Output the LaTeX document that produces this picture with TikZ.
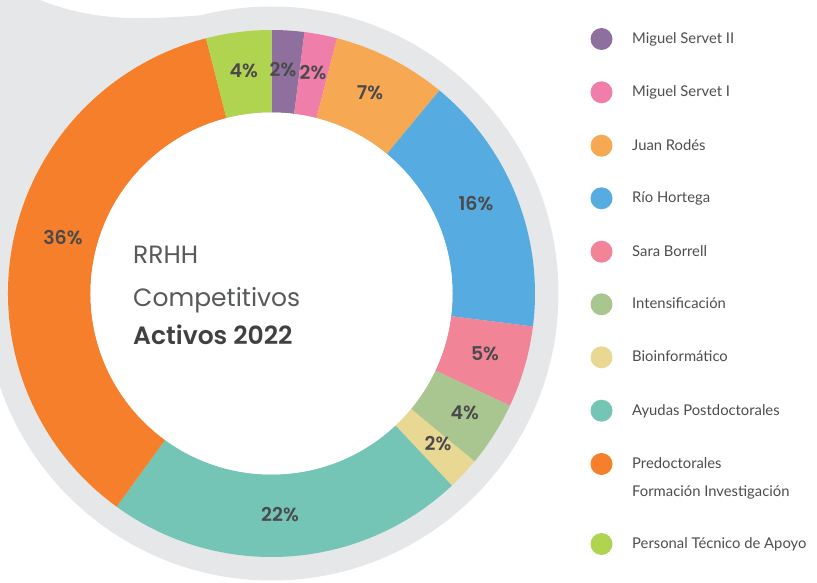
\documentclass[tikz,border=0pt]{standalone}
\usepackage{fontspec}
\setmainfont{Lato}
\newfontfamily\popfont{Poppins}
\newfontfamily\popsemi{Poppins SemiBold}
\usetikzlibrary{calc}
\definecolor{bgray}{HTML}{E6E7E8}
\definecolor{cpur}{HTML}{8E6F9E}
\definecolor{cpnk}{HTML}{F07EAA}
\definecolor{corl}{HTML}{F6A852}
\definecolor{cblu}{HTML}{56ACE0}
\definecolor{csar}{HTML}{F28497}
\definecolor{cint}{HTML}{A9C690}
\definecolor{cbio}{HTML}{E8D893}
\definecolor{cteal}{HTML}{74C5B6}
\definecolor{cora}{HTML}{F57F2A}
\definecolor{clime}{HTML}{B0D350}
\definecolor{pctgray}{HTML}{4A4A4C}
\definecolor{leggray}{HTML}{4D4D4F}
\definecolor{ctrgray}{HTML}{58595B}
\definecolor{ctrbold}{HTML}{414042}
\begin{document}
\begin{tikzpicture}[x=1pt,y=1pt,
  pct/.style={font=\popsemi\fontsize{19}{19}\selectfont, text=pctgray, inner sep=0pt},
  legdot/.style={circle, fill=#1, minimum size=22pt, inner sep=0pt},
  legtxt/.style={anchor=base west, font=\fontsize{14.8}{14.8}\selectfont, text=leggray, inner sep=0pt},
  ctr/.style={anchor=base west, font=\popfont\fontsize{25}{25}\selectfont, text=ctrgray, inner sep=0pt}]
\useasboundingbox (0,0) rectangle (817,582);
\coordinate (C) at (271.5,288.5);
% grey background bubble
\fill[bgray] (C) circle[radius=287pt];
\fill[bgray] (0,582) -- (40,582) .. controls (75,568) and (110,563) .. (150,564)
  .. controls (175,564.5) and (190,566) .. (200,566.6) -- (C) -- (0,288.5) -- cycle;
% slices
\foreach \c/\a/\b in {cpur/90/82.8, cpnk/82.8/75.6, corl/75.6/50.4, cblu/50.4/-7.2,
  csar/-7.2/-25.2, cint/-25.2/-39.6, cbio/-39.6/-46.8, cteal/-46.8/-126,
  cora/-126/-255.6, clime/-255.6/-270}
{
  \fill[\c] ($(C)+(\a:263.5pt)$) arc[start angle=\a, end angle=\b, radius=263.5pt]
    -- ($(C)+(\b:181pt)$) arc[start angle=\b, end angle=\a, radius=181pt] -- cycle;
}
\fill[white] (C) circle[radius=181pt];
% percentage labels
\foreach \x/\y/\t [count=\i] in {283/512/2\%, 313/509/2\%, 370/489.5/7\%, 476/378/16\%,
  485/228/5\%, 464.7/169.5/4\%, 438/138/2\%, 280/67/22\%,
  63/344.5/36\%, 243.7/511/4\%}
{
  \node[pct] (p\i) at (\x,\y) {\t};
}
% centre title
\node[ctr] (t1) at (133,318.7) {RRHH};
\node[ctr] (t2) at (133,276) {Competitivos};
\node[ctr, font=\popsemi\fontsize{25}{25}\selectfont, text=ctrbold] (t3) at (133,237) {Activos 2022};
% legend
\foreach \c/\y/\t [count=\i] in {cpur/543/Miguel Servet II, cpnk/489.7/Miguel Servet I,
  corl/436.3/Juan Rodés, cblu/383.7/Río Hortega, csar/330.3/Sara Borrell,
  cint/277.7/Intensificación, cbio/224.7/Bioinformático, cteal/171.3/Ayudas Postdoctorales,
  cora/118/Predoctorales, clime/38/Personal Técnico de Apoyo}
{
  \node[legdot=\c] (d\i) at (601.5,\y) {};
  \node[legtxt] (l\i) at (632,\y-4.5) {\t};
}
\node[legtxt] (l9b) at (632,86) {Formación Investigación};
\end{tikzpicture}
\end{document}
